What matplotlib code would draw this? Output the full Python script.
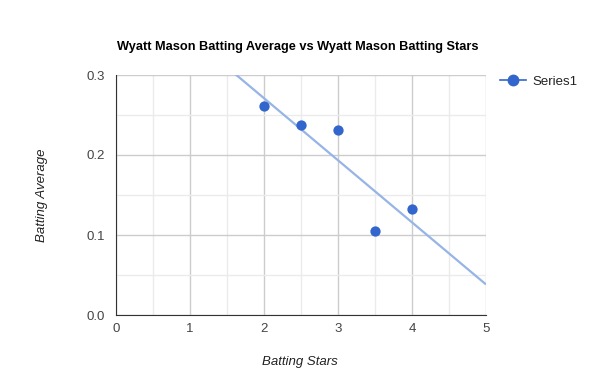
import numpy as np
import matplotlib.pyplot as plt
from matplotlib.lines import Line2D
from matplotlib.ticker import MultipleLocator

plt.rcParams['font.family'] = ['Liberation Sans', 'DejaVu Sans']

# data
stars = [2, 2.5, 3, 3.5, 4]
batting_avg = [0.261, 0.237, 0.231, 0.105, 0.133]

title = "Wyatt Mason Batting Average vs Wyatt Mason Batting Stars"
x_title = "Batting Stars"
y_title = "Batting Average"
series_name = "Series1"

dot_color = "#3366cc"
trend_color = "#97b4e6"
text_color = "#444444"


def main():
    fig = plt.figure(figsize=(6, 3.9), dpi=100)
    ax = fig.add_axes([116 / 600, 75 / 390, 370 / 600, 240 / 390])

    # trendline (linear fit over the data)
    slope, intercept = np.polyfit(stars, batting_avg, 1)
    tx = np.array([0, 5])
    ax.plot(tx, slope * tx + intercept, color=trend_color, lw=1.6,
            zorder=2, solid_capstyle='butt')

    ax.scatter(stars, batting_avg, s=55, color=dot_color, zorder=3,
               linewidths=0)

    ax.set_xlim(0, 5)
    ax.set_ylim(0, 0.3)
    ax.xaxis.set_major_locator(MultipleLocator(1))
    ax.xaxis.set_minor_locator(MultipleLocator(0.5))
    ax.yaxis.set_major_locator(MultipleLocator(0.1))
    ax.yaxis.set_minor_locator(MultipleLocator(0.05))
    ax.yaxis.set_major_formatter(plt.FuncFormatter(lambda v, p: f"{v:.1f}"))

    ax.grid(which='major', color='#cccccc', lw=1)
    ax.grid(which='minor', color='#ebebeb', lw=1)
    ax.set_axisbelow(True)

    for s in ['top', 'right']:
        ax.spines[s].set_visible(False)
    ax.spines['left'].set_color('#333333')
    ax.spines['bottom'].set_color('#333333')
    ax.tick_params(which='both', length=0, labelsize=9.5, colors=text_color)
    ax.tick_params(axis='x', pad=6)
    ax.tick_params(axis='y', pad=8)

    fig.text(0.497, 1 - 47 / 390, title, ha='center', va='center',
             fontsize=9.2, fontweight='bold', color='#000000')
    fig.text(300 / 600, 1 - 362 / 390, x_title, ha='center', va='center',
             fontsize=9.5, style='italic', color='#222222')
    fig.text(42 / 600, 1 - 195 / 390, y_title, ha='center', va='center',
             fontsize=9.5, style='italic', color='#222222', rotation=90)

    handle = Line2D([], [], color=dot_color, marker='o', markersize=7.5,
                    lw=1.2)
    fig.legend([handle], [series_name], loc='center left',
               bbox_to_anchor=(488 / 600, 1 - 82 / 390), frameon=False,
               fontsize=9.5, handlelength=2.0, handletextpad=0.45,
               labelcolor='#222222')

    fig.savefig("out.png", dpi=100)


if __name__ == '__main__':
    main()
